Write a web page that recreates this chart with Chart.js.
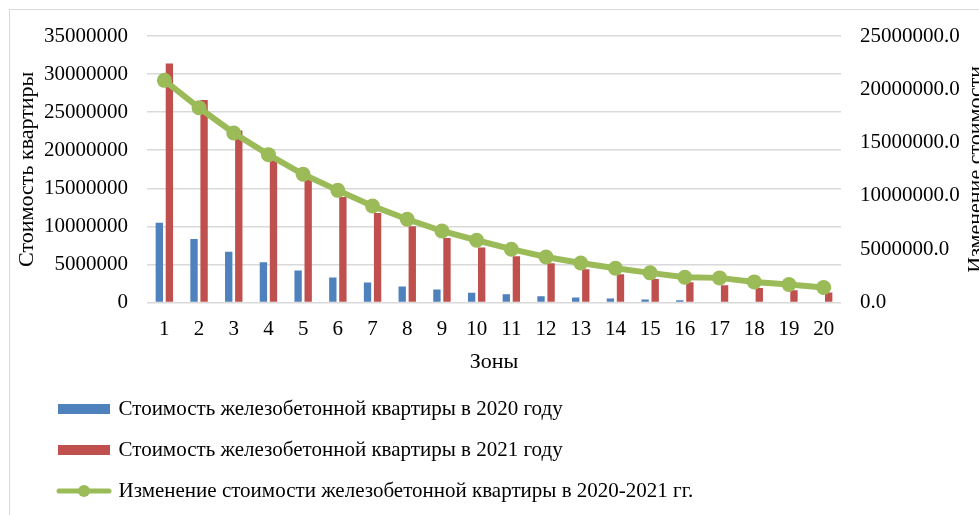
<!DOCTYPE html>
<html>
<head>
<meta charset="utf-8">
<script src="https://cdn.jsdelivr.net/npm/chart.js@4.4.1/dist/chart.umd.min.js"></script>
<style>
  html, body { margin: 0; padding: 0; background: #fff; overflow: hidden; }
  #wrap { width: 979px; height: 515px; position: relative; }
</style>
</head>
<body>
<div id="wrap"><canvas id="chart" width="979" height="515"></canvas></div>
<script>
// Zones and apartment costs (roubles)
const zones = ['1','2','3','4','5','6','7','8','9','10','11','12','13','14','15','16','17','18','19','20'];
const cost2020 = [10490000, 8330000, 6670000, 5300000, 4210000, 3290000, 2630000, 2100000, 1710000, 1280000,
                  1090000, 830000, 660000, 520000, 390000, 300000, 0, 0, 0, 0];
const cost2021 = [31400000, 26600000, 22600000, 19100000, 16200000, 13850000, 11750000, 10000000, 8480000, 7220000,
                  6080000, 5160000, 4370000, 3710000, 3100000, 2660000, 2270000, 1920000, 1610000, 1310000];
const costChange = [20840000, 18270000, 15900000, 13870000, 12030000, 10520000, 9050000, 7810000, 6710000, 5840000,
                    5000000, 4270000, 3710000, 3210000, 2780000, 2370000, 2310000, 1930000, 1690000, 1410000];
const seriesNames = [
  'Стоимость железобетонной квартиры в 2020 году',
  'Стоимость железобетонной квартиры в 2021 году',
  'Изменение стоимости железобетонной квартиры в 2020-2021 гг.'
];
const axisTitles = { x: 'Зоны', y: 'Стоимость квартиры', y1: 'Изменение стоимости' };
const leftMax = 35000000, rightMax = 25000000, tickStep = 5000000;

const BLUE = '#4F81BD', RED = '#C0504D', GREEN = '#9BBB59', GRID = '#D9D9D9', INK = '#000';
const FONT = 'Liberation Serif';
const TICK_SIZE = 21, TITLE_SIZE = 22;

// Legend swatches
function rectSwatch(color) {
  const c = document.createElement('canvas');
  c.width = 52; c.height = 10;
  const g = c.getContext('2d');
  g.fillStyle = color; g.fillRect(0, 0, 52, 10);
  return c;
}
function lineSwatch(color) {
  const c = document.createElement('canvas');
  c.width = 56; c.height = 14;
  const g = c.getContext('2d');
  g.strokeStyle = color; g.lineWidth = 5; g.lineCap = 'round';
  g.beginPath(); g.moveTo(3, 7); g.lineTo(53, 7); g.stroke();
  g.fillStyle = color; g.beginPath(); g.arc(28, 7, 6, 0, Math.PI * 2); g.fill();
  return c;
}
const swatches = [rectSwatch(BLUE), rectSwatch(RED), lineSwatch(GREEN)];

// Light frame around the chart
const frame = {
  id: 'frame',
  beforeDraw(chart) {
    const c = chart.ctx;
    c.save();
    c.strokeStyle = GRID; c.lineWidth = 1;
    c.strokeRect(9.5, 9.5, chart.width + 20, chart.height + 20);
    c.restore();
  }
};
// Indent the legend block
const legendIndent = {
  id: 'legendIndent',
  afterLayout(chart) { chart.legend.left += 40; chart.legend.right += 40; }
};
// Right axis title reads bottom-to-top
const rightTitle = {
  id: 'rightTitle',
  afterDraw(chart) {
    const s = chart.scales.y1, c = chart.ctx;
    c.save();
    c.translate(s.right + 3, (s.top + s.bottom) / 2);
    c.rotate(-Math.PI / 2);
    c.font = TITLE_SIZE + 'px "' + FONT + '"';
    c.fillStyle = INK; c.textAlign = 'center'; c.textBaseline = 'alphabetic';
    c.fillText(axisTitles.y1, 0, 0);
    c.restore();
  }
};

new Chart(document.getElementById('chart'), {
  data: {
    labels: zones,
    datasets: [
      { type: 'bar', label: seriesNames[0], data: cost2020, backgroundColor: BLUE, yAxisID: 'y', order: 1,
        categoryPercentage: 0.58, barPercentage: 0.73 },
      { type: 'bar', label: seriesNames[1], data: cost2021, backgroundColor: RED, yAxisID: 'y', order: 1,
        categoryPercentage: 0.58, barPercentage: 0.73 },
      { type: 'line', label: seriesNames[2], data: costChange, borderColor: GREEN, backgroundColor: GREEN,
        borderWidth: 6, pointRadius: 7.5, pointHoverRadius: 7.5, pointBorderWidth: 0, pointBackgroundColor: GREEN,
        tension: 0, yAxisID: 'y1', order: 0 }
    ]
  },
  options: {
    responsive: false,
    animation: false,
    devicePixelRatio: 1,
    layout: { padding: { top: 36, left: 0, right: 0, bottom: 3.5 } },
    plugins: {
      tooltip: { enabled: false },
      legend: {
        position: 'bottom',
        align: 'start',
        labels: {
          usePointStyle: true,
          pointStyleWidth: 48,
          padding: 20,
          color: INK,
          font: { family: FONT, size: TICK_SIZE },
          generateLabels(chart) {
            return seriesNames.map((t, i) => ({
              text: t, datasetIndex: i, pointStyle: swatches[i], fillStyle: 'transparent',
              strokeStyle: 'transparent', lineWidth: 0, fontColor: INK, hidden: false
            }));
          }
        }
      }
    },
    scales: {
      x: {
        type: 'category',
        grid: { display: false, drawTicks: false },
        border: { display: false },
        ticks: { color: INK, font: { family: FONT, size: TICK_SIZE }, padding: 14, maxRotation: 0, autoSkip: false },
        title: { display: true, text: axisTitles.x, color: INK, font: { family: FONT, size: TITLE_SIZE }, padding: { top: 0, bottom: 3 } },
        afterFit(s) { s.height = 76; }
      },
      y: {
        position: 'left',
        min: 0, max: leftMax,
        grid: { color: GRID, lineWidth: 1.5, drawTicks: false },
        border: { display: false },
        ticks: { stepSize: tickStep, color: INK, font: { family: FONT, size: TICK_SIZE }, padding: 19,
                 callback: v => String(v) },
        title: { display: true, text: axisTitles.y, color: INK, font: { family: FONT, size: TITLE_SIZE }, padding: { top: 14, bottom: 0 } },
        afterFit(s) { s.width = 147; }
      },
      y1: {
        position: 'right',
        min: 0, max: rightMax,
        grid: { display: false, drawTicks: false },
        border: { display: false },
        ticks: { stepSize: tickStep, color: INK, font: { family: FONT, size: TICK_SIZE }, padding: 19,
                 callback: v => Number(v).toFixed(1) },
        afterFit(s) { s.width = 138; }
      }
    }
  },
  plugins: [frame, legendIndent, rightTitle]
});
</script>
</body>
</html>
